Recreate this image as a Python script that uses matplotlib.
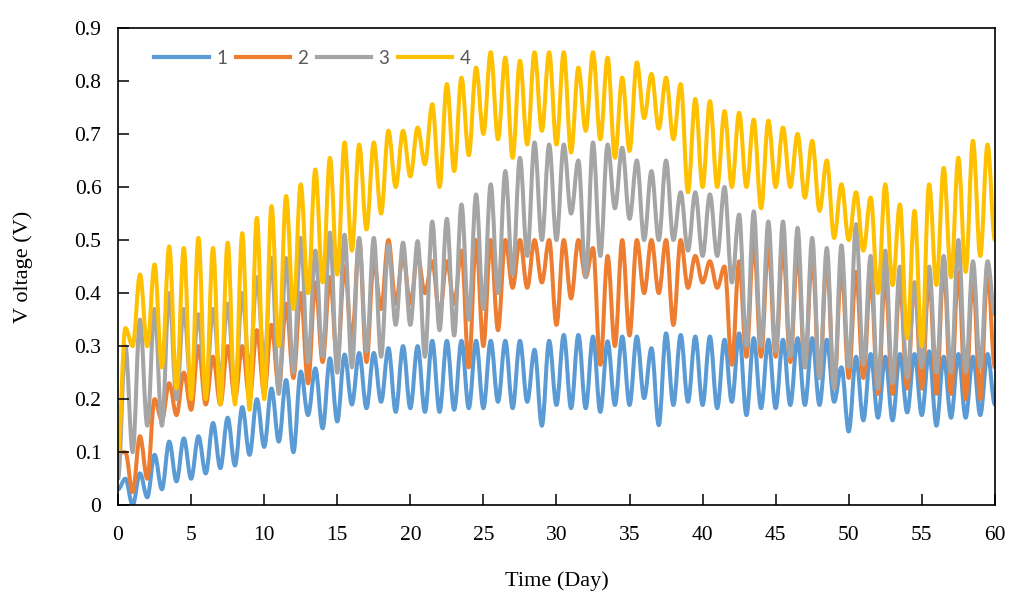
import matplotlib.pyplot as plt
import numpy as np
from matplotlib.lines import Line2D
from matplotlib.patches import PathPatch
from matplotlib.path import Path
from matplotlib.ticker import FuncFormatter

# troughs sit on whole days, peaks half a day later
days_low = np.arange(0, 61)
days_high = np.arange(0, 60) + 0.5

s1_low = [0.03, 0.0, 0.015, 0.03, 0.045, 0.05, 0.06, 0.07, 0.075, 0.095, 0.11,
          0.12, 0.10, 0.17, 0.145, 0.158, 0.19, 0.183, 0.195, 0.176, 0.183,
          0.176, 0.176, 0.18, 0.183, 0.183, 0.195, 0.183, 0.195, 0.15, 0.189,
          0.183, 0.183, 0.176, 0.189, 0.189, 0.202, 0.151, 0.189, 0.195, 0.189,
          0.183, 0.195, 0.170, 0.183, 0.183, 0.189, 0.189, 0.189, 0.195, 0.139,
          0.16, 0.165, 0.16, 0.175, 0.17, 0.15, 0.165, 0.165, 0.17, 0.19]
s1_high = [0.05, 0.06, 0.095, 0.12, 0.126, 0.13, 0.155, 0.165, 0.185, 0.2,
           0.22, 0.236, 0.252, 0.258, 0.277, 0.284, 0.287, 0.287, 0.296, 0.30,
           0.30, 0.31, 0.31, 0.31, 0.31, 0.31, 0.31, 0.31, 0.293, 0.31,
           0.321, 0.321, 0.318, 0.309, 0.318, 0.318, 0.296, 0.324, 0.321, 0.318,
           0.318, 0.312, 0.324, 0.315, 0.312, 0.312, 0.315, 0.315, 0.312, 0.26,
           0.28, 0.285, 0.28, 0.285, 0.285, 0.29, 0.28, 0.285, 0.28, 0.285]

s2_low = [0.10, 0.025, 0.05, 0.16, 0.17, 0.18, 0.19, 0.19, 0.20, 0.20, 0.21,
          0.22, 0.24, 0.23, 0.27, 0.27, 0.31, 0.27, 0.37, 0.38, 0.38,
          0.40, 0.36, 0.38, 0.26, 0.30, 0.33, 0.41, 0.41, 0.42, 0.34,
          0.39, 0.43, 0.265, 0.30, 0.32, 0.40, 0.40, 0.34, 0.41, 0.42,
          0.41, 0.265, 0.28, 0.28, 0.28, 0.27, 0.26, 0.24, 0.22, 0.24,
          0.24, 0.21, 0.21, 0.22, 0.22, 0.21, 0.21, 0.20, 0.20, 0.26]
s2_high = [0.10, 0.13, 0.20, 0.23, 0.25, 0.30, 0.28, 0.30, 0.30, 0.33,
           0.34, 0.38, 0.40, 0.42, 0.43, 0.45, 0.50, 0.46, 0.50, 0.47,
           0.47, 0.46, 0.46, 0.48, 0.50, 0.50, 0.50, 0.50, 0.50, 0.50,
           0.50, 0.50, 0.485, 0.47, 0.50, 0.50, 0.50, 0.50, 0.50, 0.47,
           0.46, 0.45, 0.46, 0.50, 0.49, 0.49, 0.48, 0.47, 0.46, 0.45,
           0.44, 0.43, 0.43, 0.42, 0.42, 0.43, 0.45, 0.44, 0.43, 0.44]

s3_low = [0.05, 0.10, 0.15, 0.15, 0.20, 0.22, 0.21, 0.24, 0.22, 0.25, 0.27,
          0.21, 0.25, 0.27, 0.28, 0.25, 0.26, 0.29, 0.28, 0.34, 0.34,
          0.28, 0.33, 0.32, 0.35, 0.37, 0.40, 0.435, 0.47, 0.50, 0.50,
          0.55, 0.43, 0.47, 0.56, 0.54, 0.50, 0.50, 0.50, 0.48, 0.47,
          0.47, 0.42, 0.30, 0.30, 0.29, 0.28, 0.26, 0.24, 0.22, 0.26,
          0.265, 0.22, 0.23, 0.24, 0.26, 0.25, 0.25, 0.25, 0.26, 0.36]
s3_high = [0.30, 0.35, 0.37, 0.40, 0.37, 0.36, 0.37, 0.38, 0.40, 0.43,
           0.466, 0.466, 0.504, 0.48, 0.514, 0.51, 0.504, 0.504, 0.49, 0.495,
           0.498, 0.535, 0.54, 0.567, 0.586, 0.605, 0.63, 0.655, 0.684, 0.68,
           0.68, 0.65, 0.684, 0.68, 0.674, 0.65, 0.63, 0.65, 0.59, 0.59,
           0.586, 0.60, 0.548, 0.554, 0.535, 0.535, 0.523, 0.504, 0.485, 0.49,
           0.53, 0.47, 0.48, 0.45, 0.42, 0.45, 0.47, 0.50, 0.46, 0.46]

s4_low = [0.10, 0.30, 0.30, 0.26, 0.22, 0.20, 0.20, 0.19, 0.19, 0.18, 0.20,
          0.30, 0.37, 0.40, 0.42, 0.435, 0.48, 0.52, 0.55, 0.60, 0.62,
          0.643, 0.60, 0.63, 0.66, 0.70, 0.69, 0.655, 0.68, 0.706, 0.68,
          0.665, 0.706, 0.69, 0.655, 0.668, 0.73, 0.71, 0.69, 0.59, 0.60,
          0.60, 0.60, 0.60, 0.56, 0.60, 0.60, 0.58, 0.555, 0.504, 0.50,
          0.48, 0.40, 0.415, 0.315, 0.30, 0.415, 0.43, 0.44, 0.47, 0.50]
s4_high = [0.334, 0.435, 0.454, 0.488, 0.485, 0.504, 0.485, 0.495, 0.513, 0.542,
           0.564, 0.583, 0.605, 0.633, 0.655, 0.684, 0.68, 0.684, 0.706, 0.706,
           0.712, 0.756, 0.794, 0.806, 0.825, 0.854, 0.844, 0.838, 0.854, 0.854,
           0.854, 0.825, 0.854, 0.844, 0.806, 0.835, 0.813, 0.806, 0.794, 0.766,
           0.762, 0.743, 0.74, 0.727, 0.725, 0.712, 0.70, 0.687, 0.65, 0.605,
           0.59, 0.58, 0.605, 0.567, 0.555, 0.605, 0.636, 0.655, 0.687, 0.68]

labels = ['1', '2', '3', '4']
colors = ['#5B9BD5', '#ED7D31', '#A5A5A5', '#FFC000']


def smooth_path(low, high, k=0.36):
    # alternate troughs and peaks, joined by beziers with flat ends
    t = np.empty(len(days_low) + len(days_high))
    v = np.empty_like(t)
    t[0::2], t[1::2] = days_low, days_high
    v[0::2], v[1::2] = low, high
    verts = [(t[0], v[0])]
    codes = [Path.MOVETO]
    for i in range(1, len(t)):
        dt = t[i] - t[i - 1]
        verts += [(t[i - 1] + k * dt, v[i - 1]), (t[i] - k * dt, v[i]), (t[i], v[i])]
        codes += [Path.CURVE4] * 3
    return Path(verts, codes)


fig = plt.figure(figsize=(10.09, 5.93), dpi=100)
ax = fig.add_axes([0.117, 0.148, 0.869, 0.805])

series = [(s1_low, s1_high), (s2_low, s2_high), (s3_low, s3_high), (s4_low, s4_high)]
for (low, high), c in zip(series, colors):
    ax.add_patch(PathPatch(smooth_path(low, high), fill=False, edgecolor=c,
                           lw=2.9, capstyle='round', joinstyle='round'))

ax.set_xlim(0, 60)
ax.set_ylim(0, 0.9)
ax.set_xticks(np.arange(0, 61, 5))
ax.set_yticks(np.arange(0, 0.91, 0.1))
ax.yaxis.set_major_formatter(FuncFormatter(lambda v, _: f'{v:g}'))
ax.tick_params(direction='in', length=8, width=1.1, labelsize=15.5)
ax.tick_params(axis='x', pad=15)
ax.tick_params(axis='y', pad=12)
for lab in ax.get_xticklabels() + ax.get_yticklabels():
    lab.set_family('Liberation Serif')
for sp in ax.spines.values():
    sp.set_linewidth(1.2)

ax.set_xlabel('Time (Day)', family='Liberation Serif', fontsize=16, labelpad=19)
ax.set_ylabel('V oltage (V)', family='Liberation Serif', fontsize=16, labelpad=30)

handles = [Line2D([], [], color=c, lw=3) for c in colors]
leg = ax.legend(handles, labels, loc='upper left', bbox_to_anchor=(0.022, 0.99),
                ncol=4, frameon=False, handlelength=2.9, handletextpad=0.4,
                columnspacing=0.45, prop={'family': 'Lato', 'size': 13.5})
for txt in leg.get_texts():
    txt.set_color('#595959')

fig.savefig('out.png', dpi=100)
